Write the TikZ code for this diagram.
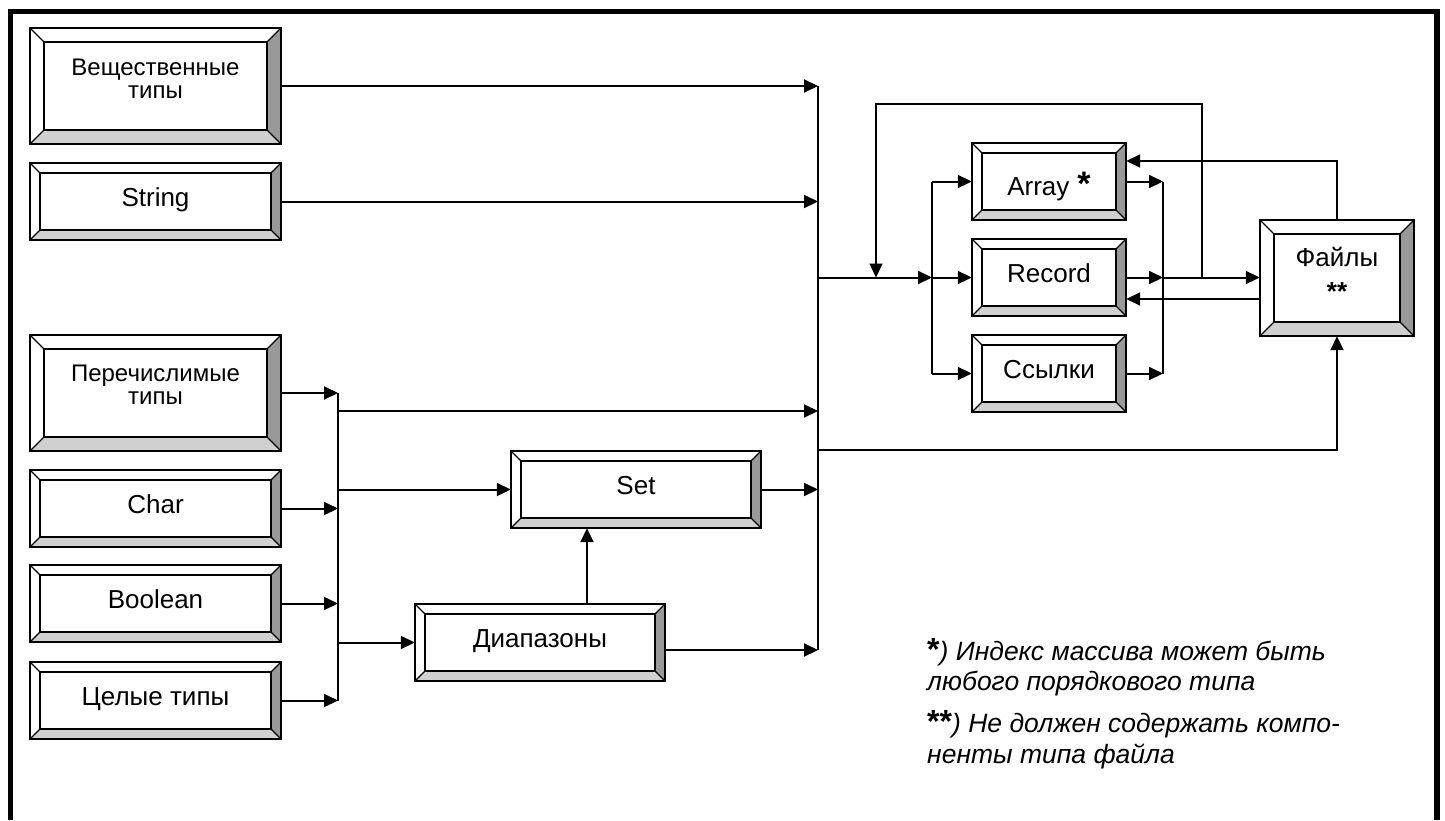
\documentclass[tikz,border=0pt]{standalone}
\usepackage{fontspec}
\setmainfont{Liberation Sans}
\usetikzlibrary{arrows.meta,calc}
\definecolor{bevdark}{HTML}{999999}
\definecolor{bevlight}{HTML}{D0D0D0}
\tikzset{
  conn/.style={line width=2pt,-{Triangle[length=14pt,width=13pt]}},
  thinconn/.style={line width=1.4pt,-{Triangle[length=14pt,width=13pt]}},
  busline/.style={line width=1.6pt},
  boxtext/.style={inner sep=0pt,align=center},
  onel/.style={anchor=base,yshift=-5pt,font=\fontsize{26}{28}\selectfont},
  twol/.style={anchor=center,yshift=7pt,font=\fontsize{24}{23}\selectfont},
  bevouter/.style={line width=2.4pt},
  bevinner/.style={line width=2pt},
  bevdiag/.style={line width=1.2pt},
  frameline/.style={line width=5.5pt},
  note/.style={anchor=base west,inner sep=0pt,font=\fontsize{26.5}{28}\selectfont\itshape},
}
% name, cx, cy, w, h, bevel, text style, text
\newcommand\bevbox[8]{%
  \pgfmathsetmacro\bxa{#2-#4/2}\pgfmathsetmacro\bxb{#2+#4/2}%
  \pgfmathsetmacro\bya{#3-#5/2}\pgfmathsetmacro\byb{#3+#5/2}%
  \pgfmathsetmacro\bxc{\bxa+#6}\pgfmathsetmacro\bxd{\bxb-#6}%
  \pgfmathsetmacro\byc{\bya+#6}\pgfmathsetmacro\byd{\byb-#6}%
  \fill[white] (\bxa,\bya) rectangle (\bxb,\byb);
  \fill[bevdark] (\bxb,\bya) -- (\bxd,\byc) -- (\bxd,\byd) -- (\bxb,\byb) -- cycle;
  \fill[bevlight] (\bxa,\byb) -- (\bxc,\byd) -- (\bxd,\byd) -- (\bxb,\byb) -- cycle;
  \draw[bevdiag] (\bxa,\bya) -- (\bxc,\byc) (\bxb,\bya) -- (\bxd,\byc)
                 (\bxa,\byb) -- (\bxc,\byd) (\bxb,\byb) -- (\bxd,\byd);
  \draw[bevinner] (\bxc,\byc) rectangle (\bxd,\byd);
  \draw[bevouter] (\bxa,\bya) rectangle (\bxb,\byb);
  \node[inner sep=0pt,minimum width=#4pt,minimum height=#5pt] (#1) at (#2,#3) {};
  \node[boxtext,#7] (#1-t) at (#2,#3) {#8};
}
\begin{document}
\begin{tikzpicture}[x=1pt,y=-1pt]
\useasboundingbox (0,0) rectangle (1445,820);
\draw[frameline] (10.5,820) -- (10.5,11.5) -- (1437,11.5) -- (1437,820);

% boxes
\bevbox{ves}{155.5}{86}{251}{116}{14}{twol}{Вещественные\\типы}
\bevbox{str}{155.5}{201.5}{251}{77}{10}{onel}{String}
\bevbox{per}{155.5}{393}{251}{116}{14}{twol,yshift=1pt}{Перечислимые\\типы}
\bevbox{chr}{155.5}{508.5}{251}{77}{10}{onel}{Char}
\bevbox{bool}{155.5}{603.5}{251}{77}{10}{onel}{Boolean}
\bevbox{cel}{155.5}{700.5}{251}{77}{10}{onel}{Целые типы}
\bevbox{set}{636}{489.5}{250}{77}{10}{onel}{Set}
\bevbox{diap}{540}{642.5}{250}{77}{10}{onel}{Диапазоны}
\bevbox{arr}{1049}{181.5}{154}{77}{10}{onel,yshift=-9pt}{Array\hspace{8pt}{\bfseries\fontsize{34}{34}\selectfont *}}
\bevbox{rec}{1049}{277.5}{154}{77}{10}{onel}{Record}
\bevbox{ssy}{1049}{373.5}{154}{77}{10}{onel}{Ссылки}
\bevbox{fil}{1337}{278}{154}{116}{14}{anchor=center,yshift=4pt,font=\fontsize{26}{28}\selectfont}{Файлы\\[6pt]{\bfseries **}}

% bus coordinates
\coordinate (B) at (818,0);
\coordinate (Bb) at (818,650);
\coordinate (S) at (338,0);
\coordinate (C) at (932,0);
\coordinate (D) at (1163,0);

% main bus
\draw[busline] (ves.east -| B) -- (Bb);
\draw[conn] (ves.east) -- (ves.east -| B);
\draw[conn] (str.east) -- (str.east -| B);

% left small bus
\draw[busline] (per.east -| S) -- (cel.east -| S);
\draw[conn] (per.east) -- (per.east -| S);
\draw[conn] (chr.east) -- (chr.east -| S);
\draw[conn] (bool.east) -- (bool.east -| S);
\draw[conn] (cel.east) -- (cel.east -| S);
\coordinate (s1) at (338,411);
\draw[conn] (s1) -- (s1 -| B);
\draw[conn] (set.west -| S) -- (set.west);
\draw[conn] (diap.west -| S) -- (diap.west);
\draw[conn] (set.east) -- (set.east -| B);
\coordinate (d1) at (587,0);
\draw[conn] (diap.north -| d1) -- (set.south -| d1);
\coordinate (dout) at ($(diap.east)+(0,7.5)$);
\draw[conn] (dout) -- (dout -| B);

% to structured types
\coordinate (m) at (818,277.5);
\draw[conn] (m) -- (m -| C);
\draw[busline] (arr.west -| C) -- (ssy.west -| C);
\draw[conn] (arr.west -| C) -- (arr.west);
\draw[conn] (rec.west -| C) -- (rec.west);
\draw[conn] (ssy.west -| C) -- (ssy.west);

% right bus
\draw[busline] (arr.east -| D) -- (ssy.east -| D);
\draw[conn] (arr.east) -- (arr.east -| D);
\draw[conn] (rec.east) -- (rec.east -| D);
\draw[conn] (ssy.east) -- (ssy.east -| D);
\draw[conn] (rec.east -| D) -- (rec.east -| fil.west);

% feedback loop
\coordinate (fbl) at (876,104);
\coordinate (fbr) at (1202,104);
\draw[thinconn] (rec.east -| fbr) -- (fbr) -- (fbl) -- (m -| fbl);

% file back arrows
\coordinate (b1) at ($(fil.west)+(0,21)$);
\draw[conn] (b1) -- (b1 -| rec.east);
\coordinate (ft) at (1337,161);
\draw[conn] (fil.north) -- (ft) -- (ft -| arr.east);
\coordinate (fb) at (1337,450);
\draw[conn] (fb -| B) -- (fb) -- (fil.south);

% notes
\node[note] (n1) at (927,660) {{\upshape\bfseries\fontsize{32}{32}\selectfont *}) Индекс массива может быть};
\node[note] (n2) at (927,690) {любого порядкового типа};
\node[note] (n3) at (927,732) {{\upshape\bfseries\fontsize{32}{32}\selectfont **}) Не должен содержать компо-};
\node[note] (n4) at (927,763) {ненты типа файла};
\end{tikzpicture}
\end{document}
